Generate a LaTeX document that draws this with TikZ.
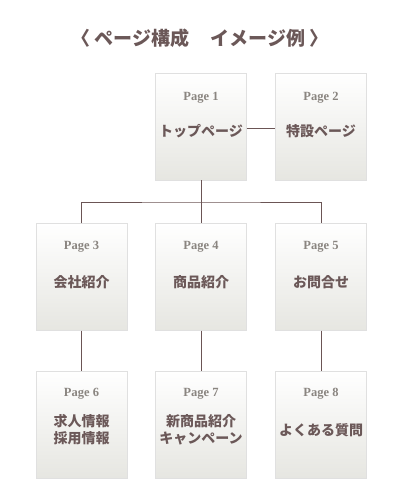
\documentclass[tikz,border=0pt]{standalone}
\usepackage{fontspec}
\setmainfont{Liberation Serif}
\newfontfamily\jp{Noto Sans CJK JP}
\usetikzlibrary{shadows}
\definecolor{linec}{HTML}{6B5555}
\definecolor{textc}{HTML}{6B5858}
\definecolor{pagec}{HTML}{8A8580}
\definecolor{boxbot}{HTML}{E6E6E1}
\tikzset{
  pagebox/.style={rectangle, minimum width=91pt, minimum height=107pt, inner sep=0pt,
    top color=white, bottom color=boxbot, draw=black!12, line width=0.4pt,
    general shadow={shadow xshift=0.8pt, shadow yshift=-0.8pt, fill=black, opacity=0.25}},
  plabel/.style={font=\fontsize{12.5}{14}\selectfont\bfseries, text=pagec},
  jlabel/.style={font=\jp\bfseries\fontsize{14}{17}\selectfont, text=textc, align=center},
  conn/.style={draw=linec, line width=0.9pt}
}
\begin{document}
\begin{tikzpicture}[x=1pt,y=-1pt]
\useasboundingbox (0,0) rectangle (400,500);
\node[font=\jp\bfseries\fontsize{19}{22}\selectfont, text=textc] (title) at (200,38) {〈 ページ構成\hspace{1.1em}イメージ例 〉};
% boxes
\node[pagebox] (p1) at (201,126.5) {};
\node[pagebox] (p2) at (321,126.5) {};
\node[pagebox] (p3) at (81.5,277) {};
\node[pagebox] (p4) at (201,277) {};
\node[pagebox] (p5) at (321,277) {};
\node[pagebox] (p6) at (81.5,424.5) {};
\node[pagebox] (p7) at (201,424.5) {};
\node[pagebox] (p8) at (321,424.5) {};
% labels
\node[plabel] (l1) at (201,98) {Page 1};
\node[plabel] (l2) at (321,98) {Page 2};
\node[jlabel] (t1) at (201,131) {トップページ};
\node[jlabel] (t2) at (321,131) {特設ページ};
\node[plabel] (l3) at (81.5,247) {Page 3};
\node[plabel] (l4) at (201,247) {Page 4};
\node[plabel] (l5) at (321,247) {Page 5};
\node[jlabel] (t3) at (81.5,282) {会社紹介};
\node[jlabel] (t4) at (201,282) {商品紹介};
\node[jlabel] (t5) at (321,282) {お問合せ};
\node[plabel] (l6) at (81.5,394) {Page 6};
\node[plabel] (l7) at (201,394) {Page 7};
\node[plabel] (l8) at (321,394) {Page 8};
\node[jlabel] (t6) at (81.5,430) {求人情報\\採用情報};
\node[jlabel] (t7) at (201,430) {新商品紹介\\キャンペーン};
\node[jlabel] (t8) at (321,430) {よくある質問};
% connectors
\coordinate (bar) at (201,202);
\draw[conn] (p1.east |- 0,128) -- (p2.west |- 0,128);
\draw[conn] (p1.south) -- (p4.north);
\draw[conn] (p3.north) |- (bar) -| (p5.north);
\draw[conn] (p3.south) -- (p6.north);
\draw[conn] (p4.south) -- (p7.north);
\draw[conn] (p5.south) -- (p8.north);
\end{tikzpicture}
\end{document}
